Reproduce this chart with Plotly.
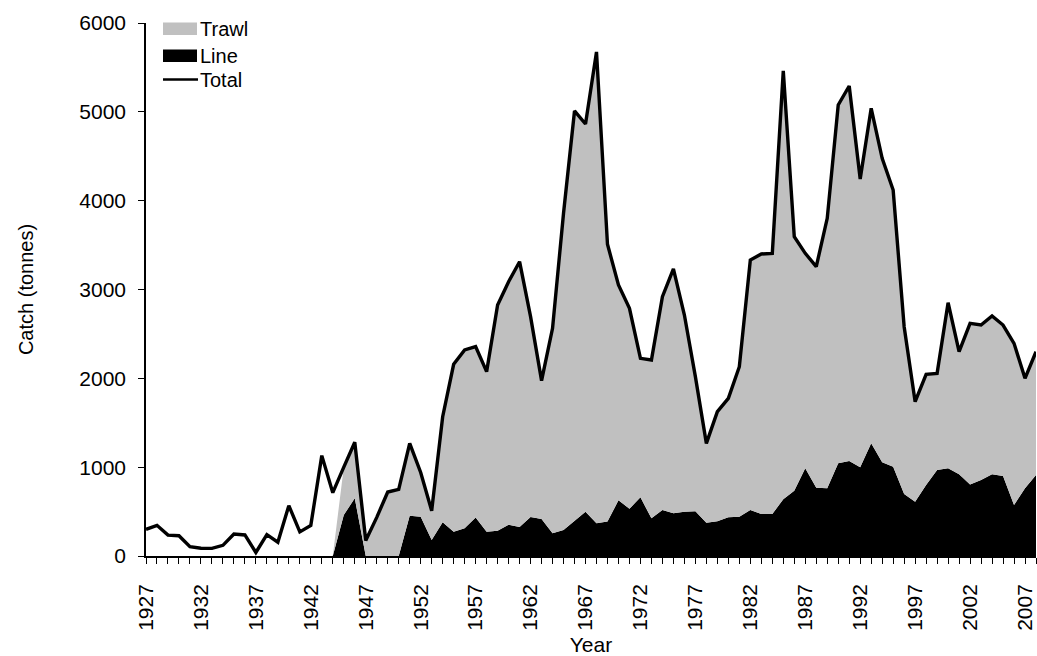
import plotly.graph_objects as go

years = list(range(1927, 2009))

total = [300, 345, 235, 228, 105, 88, 86, 120, 248, 237,
         40, 240, 155, 567, 272, 345, 1130, 713, 1000, 1280,
         175, 435, 720, 750, 1268, 940, 510, 1568, 2158, 2319,
         2357, 2075, 2826, 3088, 3313, 2694, 1974, 2563, 3858, 5010,
         4863, 5674, 3509, 3051, 2788, 2225, 2206, 2919, 3231, 2713,
         2019, 1268, 1625, 1775, 2131, 3332, 3400, 3407, 5460, 3595,
         3407, 3257, 3801, 5077, 5291, 4244, 5040, 4477, 4120, 2581,
         1737, 2045, 2056, 2852, 2300, 2619, 2600, 2702, 2600, 2394,
         2000, 2300]

line_catch = [0, 0, 0, 0, 0, 0, 0, 0, 0, 0,
              0, 0, 0, 0, 0, 0, 0, 0, 462, 650,
              0, 0, 0, 0, 454, 443, 180, 379, 274, 311,
              432, 274, 285, 353, 326, 439, 416, 255, 293, 394,
              499, 368, 387, 627, 533, 660, 424, 518, 480, 499,
              503, 375, 390, 435, 443, 518, 473, 473, 638, 735,
              987, 769, 762, 1043, 1069, 998, 1268, 1054, 1005, 698,
              611, 799, 968, 987, 919, 806, 855, 919, 900, 574,
              762, 911]

trawl = [0, 0, 0, 0, 0, 0, 0, 0, 0, 0,
         0, 0, 0, 0, 0, 0, 0, 0, 538, 630,
         175, 435, 720, 750, 814, 497, 330, 1189, 1884, 2008,
         1925, 1801, 2541, 2735, 2987, 2255, 1558, 2308, 3565, 4616,
         4364, 5306, 3122, 2424, 2255, 1565, 1782, 2401, 2751, 2214,
         1516, 893, 1235, 1340, 1688, 2814, 2927, 2934, 4822, 2860,
         2420, 2488, 3039, 4034, 4222, 3246, 3772, 3423, 3115, 1883,
         1126, 1246, 1088, 1865, 1381, 1813, 1745, 1783, 1700, 1820,
         1238, 1389]

tick_years = list(range(1927, 2009, 5))

legend_names = ["Trawl", "Line", "Total"]
legend_colors = ["#C0C0C0", "#000000", "#000000"]

FONT = "Arial, Liberation Sans, sans-serif"
TRAWL_C = "#C0C0C0"
LINE_C = "#000000"

fig = go.Figure()
fig.add_trace(go.Scatter(
    x=years, y=line_catch, name="Line", stackgroup="one", mode="lines",
    line=dict(width=0, color=LINE_C), fillcolor=LINE_C, showlegend=False,
))
fig.add_trace(go.Scatter(
    x=years, y=trawl, name="Trawl", stackgroup="one", mode="lines",
    line=dict(width=0, color=TRAWL_C), fillcolor=TRAWL_C, showlegend=False,
))
fig.add_trace(go.Scatter(
    x=years, y=total, name="Total", mode="lines",
    line=dict(width=3.4, color="#000000"), showlegend=False,
))

# Custom legend (Excel-style swatches) in paper coordinates
PX0, PW, PY0, PH = 146, 890, 556, 533
def px(x):
    return (x - PX0) / PW
def py(y):
    return (PY0 - y) / PH

shapes = [
    dict(type="rect", xref="paper", yref="paper", x0=px(163), x1=px(197),
         y0=py(35), y1=py(22.5), fillcolor=legend_colors[0], line=dict(width=0)),
    dict(type="rect", xref="paper", yref="paper", x0=px(163), x1=px(197),
         y0=py(62), y1=py(49.5), fillcolor=legend_colors[1], line=dict(width=0)),
    dict(type="line", xref="paper", yref="paper", x0=px(163), x1=px(198),
         y0=py(79.5), y1=py(79.5), line=dict(color=legend_colors[2], width=2.5)),
]
annotations = []
for name, yc in zip(legend_names, [28.8, 55.8, 79.5]):
    annotations.append(dict(
        text=name, xref="paper", yref="paper", x=px(199), y=py(yc),
        xanchor="left", yanchor="middle", showarrow=False,
        font=dict(size=20, family=FONT, color="#000"), borderpad=0,
    ))

fig.update_layout(
    width=1037, height=656,
    margin=dict(l=146, r=1, t=23, b=100, autoexpand=False),
    paper_bgcolor="white", plot_bgcolor="white",
    font=dict(family=FONT, size=20, color="#000000"),
    showlegend=False,
    shapes=shapes, annotations=annotations,
    xaxis=dict(
        range=[1927, 2008], tickmode="array", tickvals=tick_years,
        ticktext=[str(y) for y in tick_years],
        tickangle=-90, ticks="outside", ticklen=6, tickwidth=1, tickcolor="#000",
        minor=dict(dtick=1, tick0=1927, ticks="outside", ticklen=6, tickwidth=1, tickcolor="#000"),
        showline=True, linecolor="#000", linewidth=1.5,
        showgrid=False, zeroline=False, automargin=False,
        title=dict(text="Year", standoff=8, font=dict(size=21)),
        ticklabelstandoff=12,
        tickfont=dict(size=21),
    ),
    yaxis=dict(
        range=[0, 6000], dtick=1000, tick0=0,
        ticks="outside", ticklen=6, tickwidth=1, tickcolor="#000",
        showline=True, linecolor="#000", linewidth=1.5,
        showgrid=False, zeroline=False, automargin=False,
        title=dict(text="Catch (tonnes)", standoff=40, font=dict(size=20)),
        ticklabelstandoff=8,
        tickfont=dict(size=21),
    ),
)

fig.write_html(
    "out.html",
    config={"displayModeBar": False},
    post_script="document.body.style.margin='0';document.body.style.overflow='hidden';",
)
